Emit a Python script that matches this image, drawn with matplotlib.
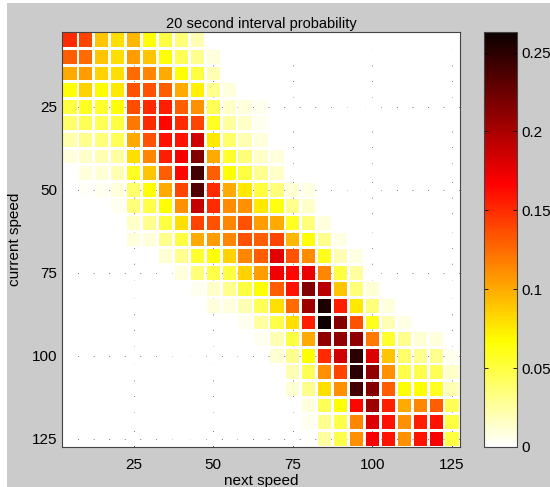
import matplotlib
matplotlib.use('Agg')
import matplotlib.pyplot as plt
from matplotlib.patches import Rectangle
from matplotlib.collections import PatchCollection
import numpy as np

plt.rcParams['font.family'] = ['Liberation Sans', 'DejaVu Sans']

# speed bins (centres), 5 units apart
speeds = np.arange(5, 130, 5)
ticks = [25, 50, 75, 100, 125]
cbar_ticks = [0, 0.05, 0.1, 0.15, 0.2, 0.25]

# each row: (first non-zero column index, values) -> current speed row
rows = [
    (0, [0.15, 0.14, 0.09, 0.08, 0.095, 0.066, 0.05, 0.035, 0.02]),
    (0, [0.13, 0.125, 0.09, 0.08, 0.105, 0.09, 0.066, 0.045, 0.03, 0.01]),
    (0, [0.10, 0.105, 0.085, 0.08, 0.125, 0.115, 0.10, 0.066, 0.05, 0.02]),
    (0, [0.066, 0.085, 0.068, 0.075, 0.135, 0.135, 0.13, 0.10, 0.072, 0.03, 0.01]),
    (0, [0.05, 0.058, 0.055, 0.066, 0.137, 0.15, 0.155, 0.13, 0.11, 0.045, 0.015, 0.01, 0.005]),
    (0, [0.04, 0.045, 0.045, 0.05, 0.12, 0.15, 0.165, 0.15, 0.14, 0.058, 0.025, 0.015, 0.005]),
    (0, [0.022, 0.03, 0.035, 0.045, 0.10, 0.135, 0.16, 0.16, 0.185, 0.075, 0.04, 0.02, 0.01]),
    (0, [0.01, 0.015, 0.02, 0.025, 0.08, 0.115, 0.155, 0.17, 0.215, 0.10, 0.055, 0.035, 0.015, 0.01]),
    (1, [0.01, 0.012, 0.02, 0.058, 0.09, 0.13, 0.165, 0.24, 0.13, 0.066, 0.05, 0.03, 0.015]),
    (1, [0.003, 0.005, 0.01, 0.04, 0.066, 0.10, 0.14, 0.235, 0.15, 0.10, 0.075, 0.05, 0.035, 0.012, 0.008]),
    (3, [0.005, 0.035, 0.048, 0.066, 0.11, 0.19, 0.15, 0.112, 0.11, 0.075, 0.063, 0.03, 0.015]),
    (4, [0.015, 0.03, 0.05, 0.08, 0.14, 0.135, 0.115, 0.135, 0.105, 0.10, 0.058, 0.035, 0.01]),
    (4, [0.01, 0.01, 0.03, 0.05, 0.10, 0.105, 0.115, 0.135, 0.13, 0.14, 0.095, 0.066, 0.03, 0.008]),
    (6, [0.012, 0.03, 0.055, 0.066, 0.085, 0.115, 0.13, 0.178, 0.135, 0.112, 0.06, 0.02, 0.008]),
    (7, [0.01, 0.035, 0.048, 0.05, 0.085, 0.105, 0.172, 0.165, 0.175, 0.115, 0.05, 0.025]),
    (8, [0.005, 0.015, 0.03, 0.05, 0.066, 0.13, 0.16, 0.215, 0.195, 0.09, 0.035, 0.012]),
    (9, [0.01, 0.01, 0.02, 0.045, 0.08, 0.125, 0.205, 0.255, 0.155, 0.075, 0.035, 0.01]),
    (11, [0.005, 0.025, 0.048, 0.08, 0.155, 0.26, 0.215, 0.135, 0.06, 0.02, 0.008]),
    (12, [0.005, 0.02, 0.05, 0.10, 0.21, 0.21, 0.21, 0.12, 0.055, 0.03, 0.012, 0.01]),
    (13, [0.012, 0.03, 0.066, 0.15, 0.185, 0.25, 0.18, 0.09, 0.04, 0.03, 0.03, 0.005]),
    (14, [0.02, 0.045, 0.11, 0.14, 0.25, 0.21, 0.11, 0.048, 0.048, 0.045, 0.015]),
    (14, [0.012, 0.03, 0.08, 0.11, 0.24, 0.215, 0.13, 0.066, 0.066, 0.058, 0.02]),
    (15, [0.01, 0.045, 0.066, 0.165, 0.205, 0.155, 0.10, 0.115, 0.13, 0.045]),
    (15, [0.005, 0.03, 0.048, 0.115, 0.18, 0.16, 0.11, 0.155, 0.16, 0.05]),
    (16, [0.025, 0.048, 0.11, 0.17, 0.16, 0.11, 0.16, 0.17, 0.05]),
]

prob = np.zeros((len(speeds), len(speeds)))
for i, (start, vals) in enumerate(rows):
    prob[i, start:start + len(vals)] = vals

bg = '#cbcbcb'
fig = plt.figure(figsize=(5.5, 4.87), dpi=100, facecolor='white')
fig.patches.append(Rectangle((7 / 550, 0), 1, 484 / 487, transform=fig.transFigure,
                             facecolor=bg, edgecolor='none', zorder=-10))

ax = fig.add_axes([62 / 550, 40 / 487, 398 / 550, 415 / 487])
ax.set_facecolor('white')

# dotted grid underneath, only shows in the gaps between cells
for t in ticks:
    ax.axvline(t, color='#777777', lw=0.7, ls=(0, (1, 3)), zorder=0)
    ax.axhline(t, color='#777777', lw=0.7, ls=(0, (1, 3)), zorder=0)

step = 5
size = 4.15
cells = []
for i, cy in enumerate(speeds):
    for j, cx in enumerate(speeds):
        cells.append(Rectangle((cx - size / 2, cy - size / 2), size, size))
coll = PatchCollection(cells, cmap='hot_r', edgecolor='none', zorder=2)
coll.set_array(prob.ravel())
coll.set_clim(0, 0.263)
ax.add_collection(coll)

ax.set_xlim(speeds[0] - step / 2, speeds[-1] + step / 2)
ax.set_ylim(speeds[-1] + step / 2, speeds[0] - step / 2)
ax.set_xticks(ticks)
ax.set_yticks(ticks)
ax.set_yticks(speeds, minor=True)
ax.tick_params(direction='in', length=3, width=0.6, labelsize=11, colors='#333333',
               labelcolor='black', top=False, right=False)
ax.tick_params(axis='x', pad=8)
ax.tick_params(which='minor', direction='in', length=1.5, width=0.5, left=True,
               bottom=False)
for s in ax.spines.values():
    s.set_color('#444444')
    s.set_linewidth(0.8)

ax.set_xlabel('next speed', fontsize=11, labelpad=1)
ax.set_ylabel('current speed', fontsize=11, labelpad=7)
ax.set_title('20 second interval probability', fontsize=10.5, pad=3)

cax = fig.add_axes([484 / 550, 40 / 487, 33 / 550, 415 / 487])
cb = fig.colorbar(coll, cax=cax, ticks=cbar_ticks)
cb.ax.set_yticklabels(['0', '0.05', '0.1', '0.15', '0.2', '0.25'])
cb.ax.tick_params(direction='in', length=3, width=0.6, labelsize=11, left=True, right=True)
cb.outline.set_edgecolor('#444444')
cb.outline.set_linewidth(0.8)

fig.savefig('out.png', dpi=100, facecolor=fig.get_facecolor())
